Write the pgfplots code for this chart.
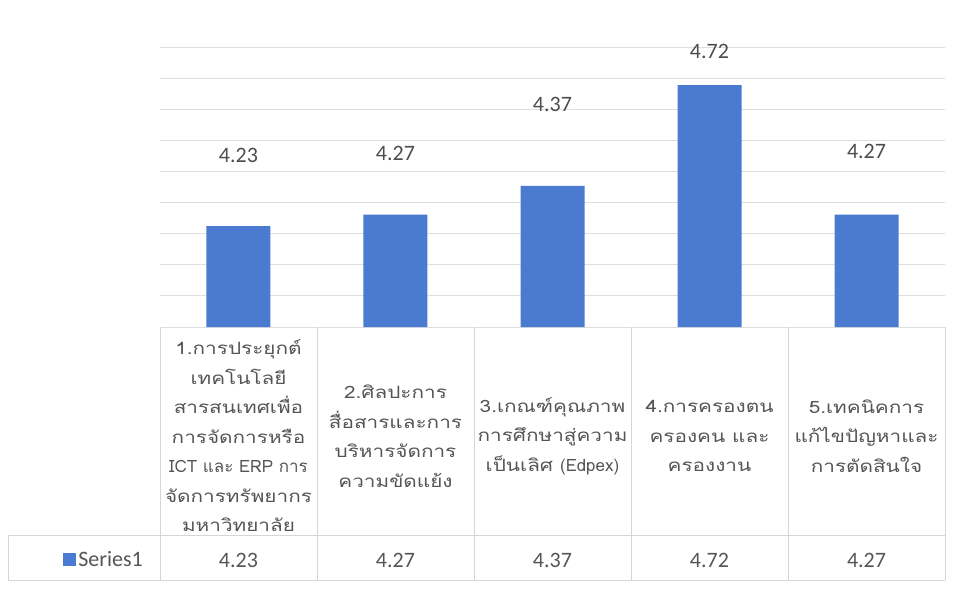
\documentclass[border=0pt]{standalone}
\usepackage{pgfplots}
\pgfplotsset{compat=1.18}
\usepackage{fontspec}
\setmainfont{Carlito}
\newfontfamily\thaifont[Script=Thai,FakeStretch=1.22]{Loma}
\newfontfamily\latfont[Script=Thai]{Loma}
\definecolor{barblue}{HTML}{4A7BD0}
\definecolor{txtgray}{HTML}{555555}
\definecolor{labgray}{HTML}{4D4D4D}
\definecolor{gridgray}{HTML}{DEDEDE}
\definecolor{linegray}{HTML}{D6D6D6}
\begin{document}
\begin{tikzpicture}
\useasboundingbox (-160pt,-280pt) rectangle (809pt,327pt);
\begin{axis}[
  scale only axis, width=785pt, height=280pt,
  xmin=-0.5, xmax=4.5, ymin=3.88, ymax=4.852,
  y coord trafo/.code={\pgfmathparse{#1-3.88}},
  y coord inv trafo/.code={\pgfmathparse{#1+3.88}},
  axis line style={draw=none},
  ytick={3.88,3.988,4.096,4.204,4.312,4.42,4.528,4.636,4.744,4.852},
  yticklabels={},
  ymajorgrids, major grid style={gridgray, line width=0.8pt},
  major tick length=0pt,
  xtick={0,...,4},
  xticklabels={
    {1.การประยุกต์\\เทคโนโลยี\\สารสนเทศเพื่อ\\การจัดการหรือ\\{\latfont ICT และ ERP การ}\\จัดการทรัพยากร\\มหาวิทยาลัย},
    {2.ศิลปะการ\\สื่อสารและการ\\บริหารจัดการ\\ความขัดแย้ง},
    {3.เกณฑ์คุณภาพ\\การศึกษาสู่ความ\\เป็นเลิศ {\latfont (Edpex)}},
    {4.การครองตน\\ครองคน และ\\ครองงาน},
    {5.เทคนิคการ\\แก้ไขปัญหาและ\\การตัดสินใจ}},
  xticklabel style={anchor=center, yshift=-109pt, align=center,
    font=\thaifont\fontsize{17}{29.5}\selectfont, text=txtgray},
  clip=false,
  legend style={at={(-0.0713,-0.832)}, anchor=center, draw=none, fill=none,
    font=\fontsize{22}{26}\selectfont, text=txtgray},
]
\addplot[ybar, bar width=64pt, fill=barblue, draw=none,
  legend image code/.code={\fill[barblue] (0pt,-6pt) rectangle (13pt,7pt);}]
  coordinates {(0,4.23) (1,4.27) (2,4.37) (3,4.72) (4,4.27)};
\addlegendentry{Series1}

% data labels above the bars
\addplot[draw=none, forget plot, nodes near coords, point meta=explicit symbolic,
  nodes near coords style={anchor=center, font=\fontsize{22}{26}\selectfont, text=labgray}]
  coordinates {(0,4.477)[4.23] (1,4.484)[4.27] (2,4.651)[4.37] (3,4.838)[4.72] (4,4.488)[4.27]};

% value row of the data table
\addplot[draw=none, forget plot, nodes near coords, point meta=explicit symbolic,
  nodes near coords style={anchor=center, yshift=-233pt, font=\fontsize{22}{26}\selectfont, text=txtgray}]
  coordinates {(0,3.88)[4.23] (1,3.88)[4.27] (2,3.88)[4.37] (3,3.88)[4.72] (4,3.88)[4.27]};

% data table grid
\draw[linegray, line width=0.8pt]
  (axis description cs:0,0) -- ([yshift=-253pt]axis description cs:0,0)
  (axis description cs:0.2,0) -- ([yshift=-253pt]axis description cs:0.2,0)
  (axis description cs:0.4,0) -- ([yshift=-253pt]axis description cs:0.4,0)
  (axis description cs:0.6,0) -- ([yshift=-253pt]axis description cs:0.6,0)
  (axis description cs:0.8,0) -- ([yshift=-253pt]axis description cs:0.8,0)
  (axis description cs:1,0) -- ([yshift=-253pt]axis description cs:1,0)
  ([xshift=-152pt,yshift=-208pt]axis description cs:0,0) -- ([yshift=-208pt]axis description cs:1,0)
  ([xshift=-152pt,yshift=-253pt]axis description cs:0,0) -- ([yshift=-253pt]axis description cs:1,0)
  ([xshift=-152pt,yshift=-208pt]axis description cs:0,0) -- ([xshift=-152pt,yshift=-253pt]axis description cs:0,0);
\end{axis}
\end{tikzpicture}
\end{document}
